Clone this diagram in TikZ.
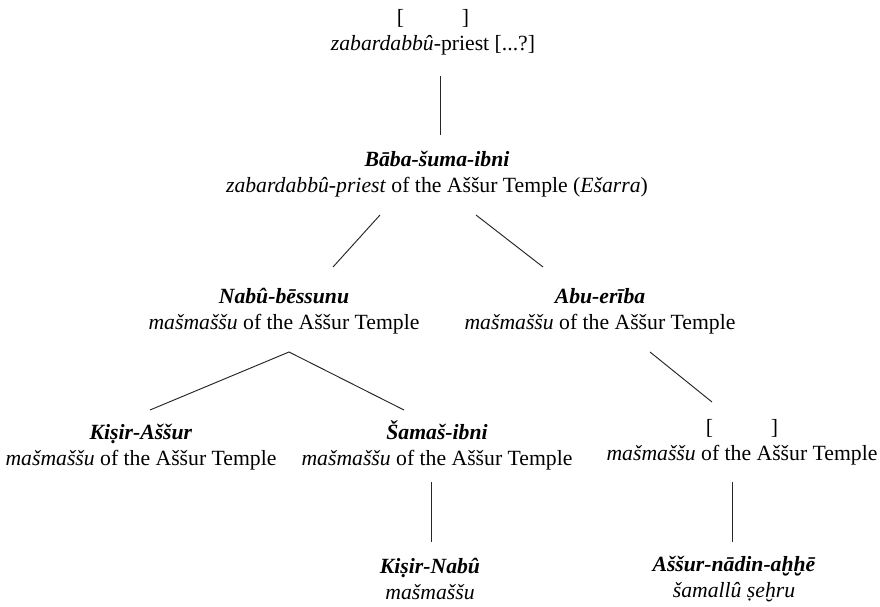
\documentclass[tikz,border=0pt]{standalone}
\usepackage{fontspec}
\setmainfont{Liberation Serif}
\usetikzlibrary{calc}
\tikzset{
  person/.style={align=center, inner sep=0pt, font=\fontsize{21.7}{26}\selectfont},
  link/.style={line width=0.95pt, draw=black!85},
}
\newcommand{\nm}[1]{\textbf{\textit{#1}}}
\begin{document}
\begin{tikzpicture}[x=1pt,y=-1pt]
\useasboundingbox (0,0) rectangle (880,607);
\node[person] (top) at (433,32) {[\hspace{58pt}]\\\textit{zabardabbû}-priest [...?]};
\node[person] (bab) at (437,174) {\nm{Bāba-šuma-ibni}\\\textit{zabardabbû-priest} of the Aššur Temple (\textit{Ešarra})};
\node[person] (nab) at (284,311) {\nm{Nabû-bēssunu}\\\textit{mašmaššu} of the Aššur Temple};
\node[person] (abu) at (600,311) {\nm{Abu-erība}\\\textit{mašmaššu} of the Aššur Temple};
\node[person] (kas) at (141,447) {\nm{Kiṣir-Aššur}\\\textit{mašmaššu} of the Aššur Temple};
\node[person] (sam) at (437,445) {\nm{Šamaš-ibni}\\\textit{mašmaššu} of the Aššur Temple};
\node[person] (unk) at (742,442) {[\hspace{58pt}]\\\textit{mašmaššu} of the Aššur Temple};
\node[person] (kin) at (430,579) {\nm{Kiṣir-Nabû}\\\textit{mašmaššu}};
\node[person] (ana) at (734,579) {\nm{Aššur-nādin-aḫḫē}\\\textit{šamallû ṣeḫru}};
\coordinate (nabfork) at ($(nab.center)+(5,41)$);
\draw[link] ($(top.center)+(7,44)$) -- ($(bab.center)+(3,-39)$);
\draw[link] ($(bab.center)+(-57,41)$) -- ($(nab.center)+(49,-44)$);
\draw[link] ($(bab.center)+(39,41)$) -- ($(abu.center)+(-57,-44)$);
\draw[link] ($(kas.center)+(9,-37)$) -- (nabfork) -- ($(sam.center)+(-33,-35)$);
\draw[link] ($(abu.center)+(50,41)$) -- ($(unk.center)+(-30,-40)$);
\draw[link] ($(sam.center)+(-6,37)$) -- ($(kin.center)+(1,-37)$);
\draw[link] ($(unk.center)+(-10,40)$) -- ($(ana.center)+(-2,-37)$);
\end{tikzpicture}
\end{document}
